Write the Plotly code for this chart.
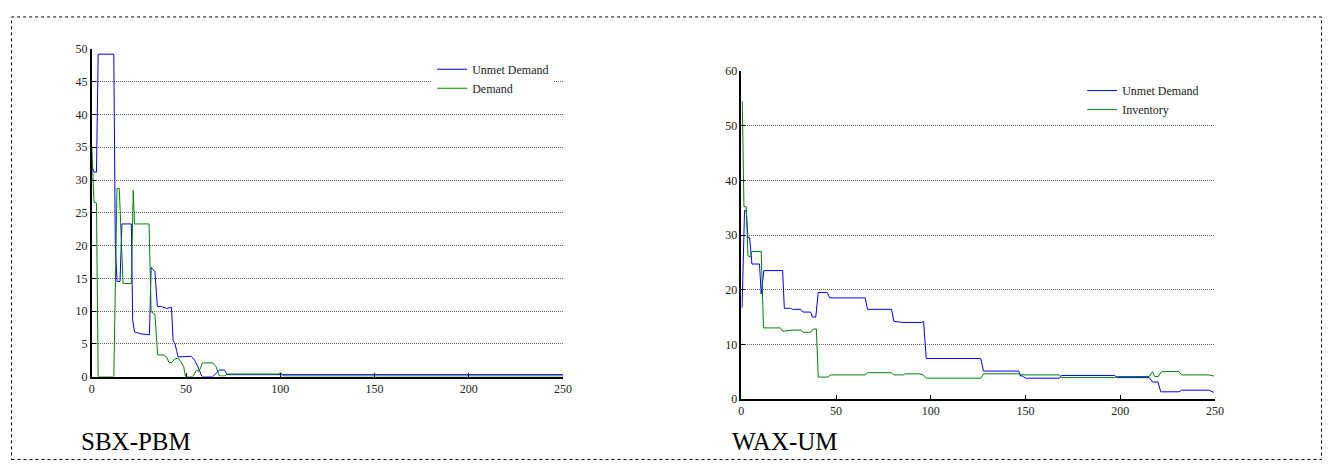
import plotly.graph_objects as go

# ---- SBX-PBM (left panel) ----
sbx_unmet_x = [0, 1.2, 2.5, 3.4, 11.7, 12.5, 13.4, 15, 16, 21, 21.7, 22.7, 26.5, 30.6, 31.5, 33.5, 34.8,
               37, 39.7, 42.3, 43.2, 44.1, 45, 45.8, 52.8, 54.6, 56.3, 58.5, 64.2, 67.7, 70.4, 72, 100, 101, 250]
sbx_unmet_y = [32.2, 31.2, 31.2, 49.2, 49.2, 20, 14.5, 14.5, 23.3, 23.3, 8.7, 6.8, 6.5, 6.4, 16.7, 16.0, 10.7,
               10.7, 10.4, 10.6, 5.4, 5.1, 4.0, 3.0, 3.1, 2.5, 1.5, 0, 0, 1.0, 1.0, 0.3, 0.3, 0.3, 0.3]

sbx_dem_x = [0, 1.2, 2.5, 3.4, 11.7, 13.4, 14.6, 16.6, 21, 22, 22.7, 30.4, 31.5, 33.5, 35, 38, 39.7, 40.9,
             42.3, 44, 45.8, 47.2, 48.8, 49.7, 53.6, 55.5, 57, 58.7, 64.2, 66, 67.7, 70.4, 72, 99, 100, 101, 102, 250]
sbx_dem_y = [35.2, 26.6, 26.5, 0, 0, 28.7, 28.7, 14.2, 14.2, 28.4, 23.3, 23.3, 9.9, 9.5, 3.3, 3.3, 3.0, 2.2,
             2.1, 2.7, 2.8, 2.3, 1.5, 0, 0, 1.0, 0.8, 2.1, 2.1, 1.5, 0.1, 0.1, 0.4, 0.4, 0.6, 0.3, 0.1, 0.1]

# ---- WAX-UM (right panel) ----
wax_unmet_x = [0.4, 1.7, 2.6, 3.5, 4.4, 5.6, 9.6, 10.5, 11.9, 21.8, 22.7, 26, 27, 31.4, 32.6, 36.6, 37.5, 39.3,
               40.6, 45.3, 46.7, 65.4, 66.6, 79.3, 80.5, 85.4, 95, 96.2, 97.6, 126.4, 127.8, 146.4, 147.3, 148.5,
               150, 167.9, 169, 197, 198.4, 215.3, 217, 219.9, 221.4, 231, 232.4, 246.7, 249.4]
wax_unmet_y = [16.7, 34.5, 34.5, 29.5, 29.5, 24.7, 24.7, 19.2, 23.5, 23.5, 16.6, 16.6, 16.4, 16.4, 15.9, 15.9,
               15.0, 15.0, 19.5, 19.5, 18.5, 18.5, 16.4, 16.4, 14.2, 14.0, 14.0, 14.2, 7.4, 7.4, 5.1, 5.1, 4.2,
               4.2, 3.8, 3.8, 4.3, 4.3, 3.9, 3.9, 3.1, 3.1, 1.3, 1.3, 1.6, 1.6, 1.2]

wax_inv_x = [0.5, 1.4, 2.6, 3.5, 4.9, 5.6, 10.5, 11.7, 20.6, 21.8, 27, 31.4, 32.6, 36.6, 38, 39.6, 40.6, 45.9,
             47, 65.4, 66.6, 79.3, 80.5, 85.4, 86.5, 94.1, 96, 97.6, 126.4, 127.8, 146.4, 149, 167.9, 169, 197,
             198.4, 215.3, 217, 218.2, 220.1, 221.8, 231, 232.4, 246.7, 249.4]
wax_inv_y = [54.5, 35.2, 35.2, 26.2, 26.0, 27.0, 27.0, 13.0, 13.0, 12.4, 12.6, 12.6, 12.2, 12.2, 12.8, 12.8,
             4.0, 4.0, 4.4, 4.4, 4.8, 4.8, 4.4, 4.4, 4.6, 4.6, 4.4, 3.8, 3.8, 4.6, 4.6, 4.4, 4.4, 3.9, 3.9,
             4.1, 4.1, 5.0, 4.1, 4.1, 5.0, 5.0, 4.4, 4.4, 4.2]

x_ticks = [0, 50, 100, 150, 200, 250]

# The page body keeps its default 8px margin, so the figure is sized to fit inside the window.
OFF = 8
W, H = 1339 - 2 * OFF, 475 - 2 * OFF
BLUE = "#0000ff"
GREEN = "#008000"
FONT = "Liberation Serif"


def px_x(p):
    return (p - OFF) / W


def px_y(p):
    return 1 - (p - OFF) / H


fig = go.Figure()
fig.add_trace(go.Scatter(x=sbx_unmet_x, y=sbx_unmet_y, mode="lines", name="Unmet Demand",
                         line=dict(color=BLUE, width=1), xaxis="x", yaxis="y", legend="legend"))
fig.add_trace(go.Scatter(x=sbx_dem_x, y=sbx_dem_y, mode="lines", name="Demand",
                         line=dict(color=GREEN, width=1), xaxis="x", yaxis="y", legend="legend"))
fig.add_trace(go.Scatter(x=wax_unmet_x, y=wax_unmet_y, mode="lines", name="Unmet Demand",
                         line=dict(color=BLUE, width=1), xaxis="x2", yaxis="y2", legend="legend2"))
fig.add_trace(go.Scatter(x=wax_inv_x, y=wax_inv_y, mode="lines", name="Inventory",
                         line=dict(color=GREEN, width=1), xaxis="x2", yaxis="y2", legend="legend2"))

common_x = dict(range=[0, 250], tickvals=x_ticks, showgrid=False, zeroline=False,
                showline=True, linecolor="black", linewidth=1.5, ticks="inside", ticklen=4,
                tickcolor="black", tickfont=dict(family=FONT, size=12, color="#222"))
common_y = dict(showgrid=True, gridcolor="#666", griddash="1px,1px", gridwidth=1, zeroline=False,
                showline=True, linecolor="black", linewidth=1.5, ticks="inside", ticklen=4,
                tickcolor="black", tickfont=dict(family=FONT, size=12, color="#222"))

legend_common = dict(font=dict(family=FONT, size=12, color="#222"), bgcolor="white",
                     borderwidth=0, xanchor="left", yanchor="top", tracegroupgap=0)

fig.update_layout(
    width=W, height=H,
    margin=dict(l=0, r=0, t=0, b=0),
    paper_bgcolor="white", plot_bgcolor="white",
    showlegend=True,
    xaxis=dict(domain=[px_x(89.5), px_x(565)], anchor="y", **common_x),
    yaxis=dict(domain=[px_y(381), px_y(43)], anchor="x", range=[0, 50], dtick=5, **common_y),
    xaxis2=dict(domain=[px_x(745), px_x(1223)], anchor="y2", **common_x),
    yaxis2=dict(domain=[px_y(404), px_y(66)], anchor="x2", range=[0, 60], dtick=10, **common_y),
    legend=dict(x=px_x(433), y=px_y(49), **legend_common),
    legend2=dict(x=px_x(1089), y=px_y(71), **legend_common),
    shapes=[dict(type="rect", xref="paper", yref="paper",
                 x0=px_x(8.5), x1=px_x(1330.5), y0=px_y(466.5), y1=px_y(10),
                 line=dict(color="black", width=1, dash="dot"))],
    annotations=[
        dict(text="SBX-PBM", x=px_x(77), y=px_y(448), xref="paper", yref="paper",
             xanchor="left", yanchor="middle", showarrow=False,
             font=dict(family=FONT, size=25, color="black")),
        dict(text="WAX-UM", x=px_x(734), y=px_y(448), xref="paper", yref="paper",
             xanchor="left", yanchor="middle", showarrow=False,
             font=dict(family=FONT, size=25, color="black")),
    ],
)

fig.write_html("out.html", config={"displayModeBar": False})
